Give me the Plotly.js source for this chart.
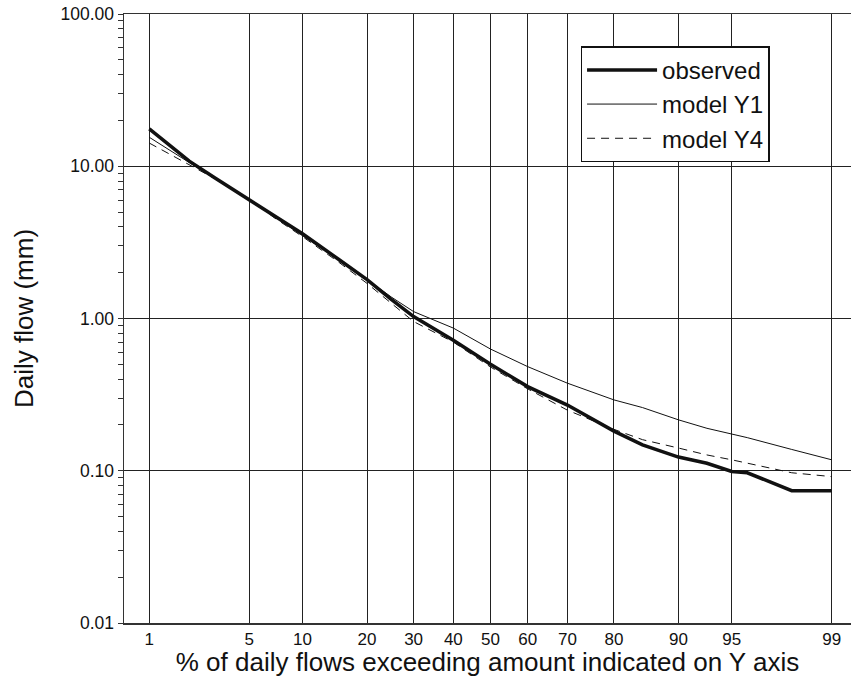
<!DOCTYPE html>
<html>
<head>
<meta charset="utf-8">
<script src="https://cdn.plot.ly/plotly-3.0.1.min.js"></script>
<style>html,body{margin:0;padding:0;background:#fff;}#chart{width:851px;height:677px;}</style>
</head>
<body>
<div id="chart"></div>
<script>
// Exceedance percentages (x) and daily flows in mm (y)
const pct      = [1, 2, 3, 5, 7, 10, 15, 20, 25, 30, 40, 50, 60, 70, 80, 85, 90, 93, 95, 96, 98, 99];
const observed = [17.6, 10.8, 8.4, 6.0, 4.7, 3.6, 2.45, 1.8, 1.33, 1.03, 0.72, 0.50, 0.357, 0.27, 0.182, 0.148, 0.123, 0.112, 0.099, 0.097, 0.074, 0.074];
const modelY1  = [15.5, 10.5, 8.3, 6.0, 4.7, 3.5, 2.45, 1.8, 1.38, 1.11, 0.865, 0.63, 0.483, 0.376, 0.292, 0.26, 0.216, 0.19, 0.175, 0.165, 0.138, 0.118];
const modelY4  = [14.2, 10.3, 8.3, 6.1, 4.6, 3.45, 2.35, 1.7, 1.25, 0.955, 0.70, 0.48, 0.345, 0.25, 0.187, 0.16, 0.141, 0.127, 0.118, 0.112, 0.097, 0.0915];

const xTickPct   = [1, 5, 10, 20, 30, 40, 50, 60, 70, 80, 90, 95, 99];
const yTickVals  = [0.01, 0.1, 1, 10, 100];
const yTickText  = ["0.01", "0.10", "1.00", "10.00", "100.00"];

// Normal probability (probit) scale for the x axis
function probit(p) {
  const a = [-3.969683028665376e+01, 2.209460984245205e+02, -2.759285104469687e+02, 1.383577518672690e+02, -3.066479806614716e+01, 2.506628277459239e+00];
  const b = [-5.447609879822406e+01, 1.615858368580409e+02, -1.556989798598866e+02, 6.680131188771972e+01, -1.328068155288572e+01];
  const c = [-7.784894002430293e-03, -3.223964580411365e-01, -2.400758277161838e+00, -2.549732539343734e+00, 4.374664141464968e+00, 2.938163982698783e+00];
  const d = [7.784695709041462e-03, 3.224671290700398e-01, 2.445134137142996e+00, 3.754408661907416e+00];
  const pl = 0.02425, ph = 1 - pl;
  let q, r;
  if (p < pl) {
    q = Math.sqrt(-2 * Math.log(p));
    return (((((c[0]*q+c[1])*q+c[2])*q+c[3])*q+c[4])*q+c[5]) / ((((d[0]*q+d[1])*q+d[2])*q+d[3])*q+1);
  } else if (p <= ph) {
    q = p - 0.5; r = q * q;
    return (((((a[0]*r+a[1])*r+a[2])*r+a[3])*r+a[4])*r+a[5])*q / (((((b[0]*r+b[1])*r+b[2])*r+b[3])*r+b[4])*r+1);
  } else {
    q = Math.sqrt(-2 * Math.log(1 - p));
    return -(((((c[0]*q+c[1])*q+c[2])*q+c[3])*q+c[4])*q+c[5]) / ((((d[0]*q+d[1])*q+d[2])*q+d[3])*q+1);
  }
}
const toZ = arr => arr.map(v => probit(v / 100));

const FONT = "Liberation Sans, Arial, Helvetica, sans-serif";
const traces = [
  {x: toZ(pct), y: observed, name: "observed", mode: "lines", line: {color: "#111", width: 3.5}},
  {x: toZ(pct), y: modelY1, name: "model Y1", mode: "lines", line: {color: "#111", width: 1}},
  {x: toZ(pct), y: modelY4, name: "model Y4", mode: "lines", line: {color: "#111", width: 1, dash: "8px,6px"}}
];

const layout = {
  width: 851, height: 677,
  margin: {l: 124, r: 0, t: 14, b: 54},
  paper_bgcolor: "#fff", plot_bgcolor: "#fff",
  font: {family: FONT, color: "#111"},
  showlegend: true,
  legend: {
    x: 0.628, y: 0.947, xanchor: "left", yanchor: "top",
    bgcolor: "#fff", bordercolor: "#111", borderwidth: 1.5,
    font: {family: FONT, size: 24, color: "#111"},
    itemwidth: 70, tracegroupgap: 0
  },
  xaxis: {
    range: [-2.4988, 2.4579],
    tickmode: "array", tickvals: toZ(xTickPct), ticktext: xTickPct.map(String),
    ticks: "", showgrid: true, gridcolor: "#222", gridwidth: 1,
    showline: true, linecolor: "#333", linewidth: 1.5, mirror: true,
    zeroline: false,
    tickfont: {size: 17, family: FONT, color: "#111"},
    title: {text: "% of daily flows exceeding amount indicated on Y axis", font: {size: 26, family: FONT, color: "#111"}, standoff: 2}
  },
  yaxis: {
    type: "log", range: [-2, 2],
    tickmode: "array", tickvals: yTickVals, ticktext: yTickText,
    ticks: "outside", ticklen: 5, tickcolor: "#333",
    minor: {ticks: "outside", ticklen: 5, tickcolor: "#333", dtick: "D1", showgrid: false},
    showgrid: true, gridcolor: "#222", gridwidth: 1,
    showline: true, linecolor: "#333", linewidth: 1.5,
    zeroline: false,
    tickfont: {size: 17.5, family: FONT, color: "#111"},
    title: {text: "Daily flow (mm)", font: {size: 26, family: FONT, color: "#111"}, standoff: 19}
  }
};

Plotly.newPlot("chart", traces, layout, {displayModeBar: false, staticPlot: true});
</script>
</body>
</html>
